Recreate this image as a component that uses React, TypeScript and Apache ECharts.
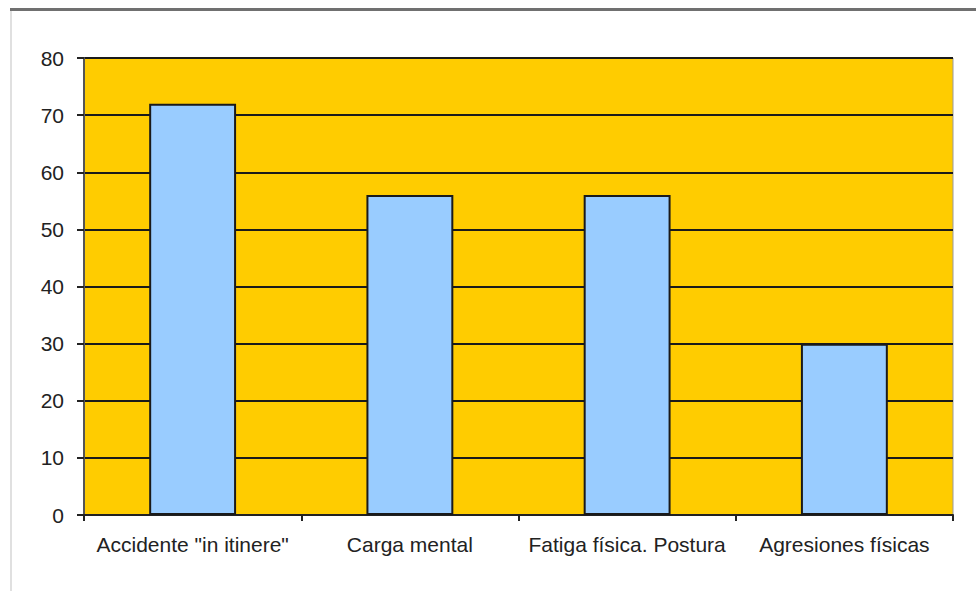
import React, { useEffect, useRef } from "react";
import * as echarts from "echarts";

const categories = ["Accidente \"in itinere\"", "Carga mental", "Fatiga física. Postura", "Agresiones físicas"];
const values = [72, 56, 56, 30];
const yMin = 0;
const yMax = 80;
const yInterval = 10;

export default function App() {
  const ref = useRef<HTMLDivElement>(null);
  useEffect(() => {
    document.body.style.margin = "0";
    const chart = echarts.init(ref.current!, null, { renderer: "svg" });
    const font = "'Liberation Sans', Arial, sans-serif";
    chart.setOption({
      animation: false,
      backgroundColor: "#ffffff",
      grid: {
        left: 84,
        right: 23,
        top: 58,
        bottom: 76,
        show: true,
        backgroundColor: "#FFCC00",
        borderColor: "#9a9a9a",
        borderWidth: 1,
      },
      graphic: [
        { type: "rect", shape: { x: 10, y: 8, width: 966, height: 3 }, style: { fill: "#707070" } },
        { type: "rect", shape: { x: 10, y: 11, width: 2, height: 580 }, style: { fill: "#e0e0e0" } },
      ],
      xAxis: {
        type: "category",
        data: categories,
        axisLine: { show: true, lineStyle: { color: "#222", width: 2 } },
        axisTick: { show: true, length: 6, lineStyle: { color: "#222", width: 2 } },
        axisLabel: { color: "#222", fontSize: 21, fontFamily: font, margin: 19, interval: 0 },
        splitLine: { show: false },
      },
      yAxis: {
        type: "value",
        min: yMin,
        max: yMax,
        interval: yInterval,
        axisLine: { show: true, lineStyle: { color: "#555", width: 2 } },
        axisTick: { show: true, length: 7, lineStyle: { color: "#222", width: 2 } },
        axisLabel: { color: "#222", fontSize: 21, fontFamily: font, margin: 20 },
        splitLine: { show: true, lineStyle: { color: "#1a1a1a", width: 2 } },
      },
      series: [
        {
          type: "bar",
          data: values,
          barWidth: "40%",
          itemStyle: { color: "#99CCFF", borderColor: "#1a1a1a", borderWidth: 2 },
        },
      ],
    });
    return () => chart.dispose();
  }, []);
  return <div ref={ref} style={{ width: 976, height: 591 }} />;
}
